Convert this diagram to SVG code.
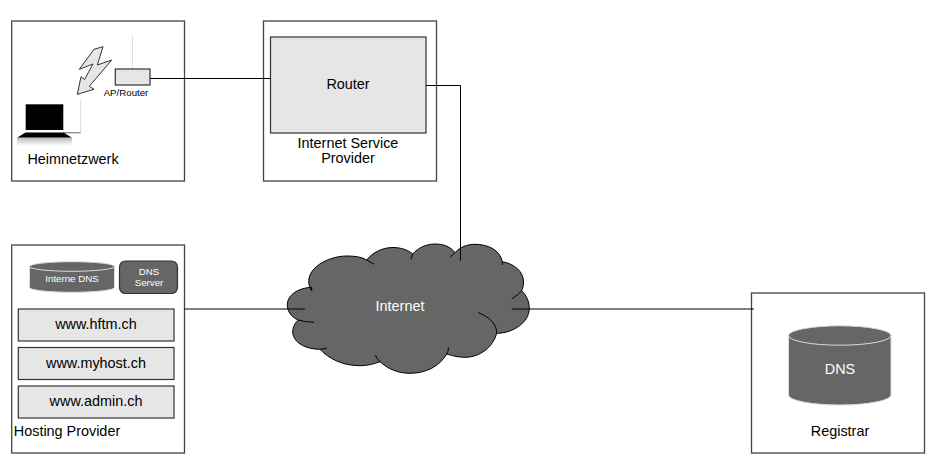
<svg xmlns="http://www.w3.org/2000/svg" width="935" height="462" viewBox="0 0 935 462">
<style>
text{font-family:"Liberation Sans",Arial,sans-serif;font-size:14.4px;text-anchor:middle;fill:#000}
.small{font-size:9.7px}
.lt{fill:#fff}
.box{fill:#fff;stroke:#444;stroke-width:1.3}
.in{fill:#e6e6e6;stroke:#333;stroke-width:1.2}
.dark{fill:#666}
.conn{fill:none;stroke:#000;stroke-width:1}
.edge{fill:none;stroke:#ddd;stroke-width:1}
</style>
<defs>
<linearGradient id="shadow" x1="0" y1="0" x2="0" y2="1"><stop offset="0" stop-color="#bbb"/><stop offset="1" stop-color="#fff"/></linearGradient>
</defs>
<rect width="935" height="462" fill="#fff"/>
<g id="heimnetzwerk">
<rect class="box" x="11.700" y="21" width="172.800" height="160"/>
<path class="edge" d="M132.500 36V69"/>
<path class="edge" d="M80.700 100V132.700"/>
<path d="M63 132.700H80.700" stroke="#888" stroke-width="1.300" fill="none"/>
<polygon points="103,46.700 94,49.300 79.300,69.300 93,64 84.500,79.500 81,76.700 77.300,94.300 94,89.300 89.300,86.300 111.700,60 97.300,65" fill="#e6e6e6" stroke="#333"/>
<rect class="in" x="115.300" y="69" width="34.700" height="16"/>
<text class="small" x="126" y="96">AP/Router</text>
<rect x="25.700" y="104.300" width="37.600" height="25.700" fill="#000"/>
<polygon points="25.500,132.500 63.500,132.500 72,137.700 17,137.700" fill="#000"/>
<rect x="17" y="137.700" width="55" height="8" fill="url(#shadow)"/>
<text x="73" y="164">Heimnetzwerk</text>
</g>
<g id="isp">
<rect class="box" x="263.500" y="21" width="173" height="160"/>
<rect class="in" x="270.500" y="37" width="155.500" height="96"/>
<text x="348" y="89">Router</text>
<text x="348" y="148">Internet Service</text>
<text x="348" y="163">Provider</text>
</g>
<g id="internet">
<path class="dark" stroke="#000" stroke-width="1" d="M311.700 291C300 272 325 256 347 256C355 256 362 257 366.700 260C373 252 383 247.500 393 247.500C401 247.500 408 250 412.700 254C418 248 426 244 435 244C444 244 451 247 455 252.700C460 247 467 244.300 475 244.300C488 244.300 500 250 502.300 261.700C515 264 523.500 272 523.500 281.700C523.500 285 523 288 521.700 290.700C526 295 529.300 301 529.300 308.300C529.300 322 514 333 496.700 333.300C493 347 480 357.300 465 357.300C459 357.300 453 356 446.700 354C440 366 426 373.300 410 373.300C398 373.300 388 369 380 361.700C374 364 367 365.700 360 365.700C343 365.700 329 359 320 349.300C303 349 292.700 341 292.700 331.700C292.700 327 295 323 298.300 320C291 317 287.300 311 287.300 305C287.300 295 298 288 311.700 287.300Z"/>
<path fill="none" stroke="#000" d="M366.700 260L374 264.300M411 259.300L412.700 254M450 257.300Q452 255 455 252.700M502.300 261.700V265M511.700 299Q518 295 521.700 290.700M478.300 312.700C490 317 497 325 496.700 333.300M448.300 347.300Q449 350 446.700 354M375.300 355.300Q377 359 380 361.700M326.700 348.300Q323 349 320 349.300M314 322.300Q305 322 298.300 320"/>
<text class="lt" x="400" y="311">Internet</text>
</g>
<g id="hosting">
<rect class="box" x="11.700" y="245" width="172.800" height="208"/>
<path class="dark" d="M29.500 266.500A42.500 4.800 0 0 1 114.500 266.500V287.500A42.500 4.800 0 0 1 29.500 287.500Z" stroke="#ddd"/>
<path class="edge" d="M29.500 266.500A42.500 4.800 0 0 0 114.500 266.500"/>
<text class="small lt" x="72" y="282">Interne DNS</text>
<rect x="119.500" y="261" width="58" height="32.500" rx="6" fill="#666" stroke="#333" stroke-width="1.200"/>
<text class="small lt" x="149" y="275">DNS</text>
<text class="small lt" x="149" y="285.500">Server</text>
<rect class="in" x="18.300" y="309" width="155.700" height="32"/>
<text x="96" y="329">www.hftm.ch</text>
<rect class="in" x="18.300" y="347.500" width="155.700" height="32"/>
<text x="96" y="368">www.myhost.ch</text>
<rect class="in" x="18.300" y="386" width="155.700" height="32"/>
<text x="96" y="406">www.admin.ch</text>
<text x="67" y="436">Hosting Provider</text>
</g>
<g id="registrar">
<rect class="box" x="751.500" y="293" width="173" height="160"/>
<path class="dark" d="M788.500 335.500A51.200 9.700 0 0 1 891 335.500V395A51.200 10 0 0 1 788.500 395Z" stroke="#ddd"/>
<path class="edge" d="M788.500 335.500A51.200 9.700 0 0 0 891 335.500"/>
<text class="lt" x="840" y="374">DNS</text>
<text x="840" y="436">Registrar</text>
</g>
<g id="connectors">
<path class="conn" d="M150 78.500H271M426 85.500H460.500V260.700M184.500 309H305M511.700 309H754"/>
</g>
</svg>
